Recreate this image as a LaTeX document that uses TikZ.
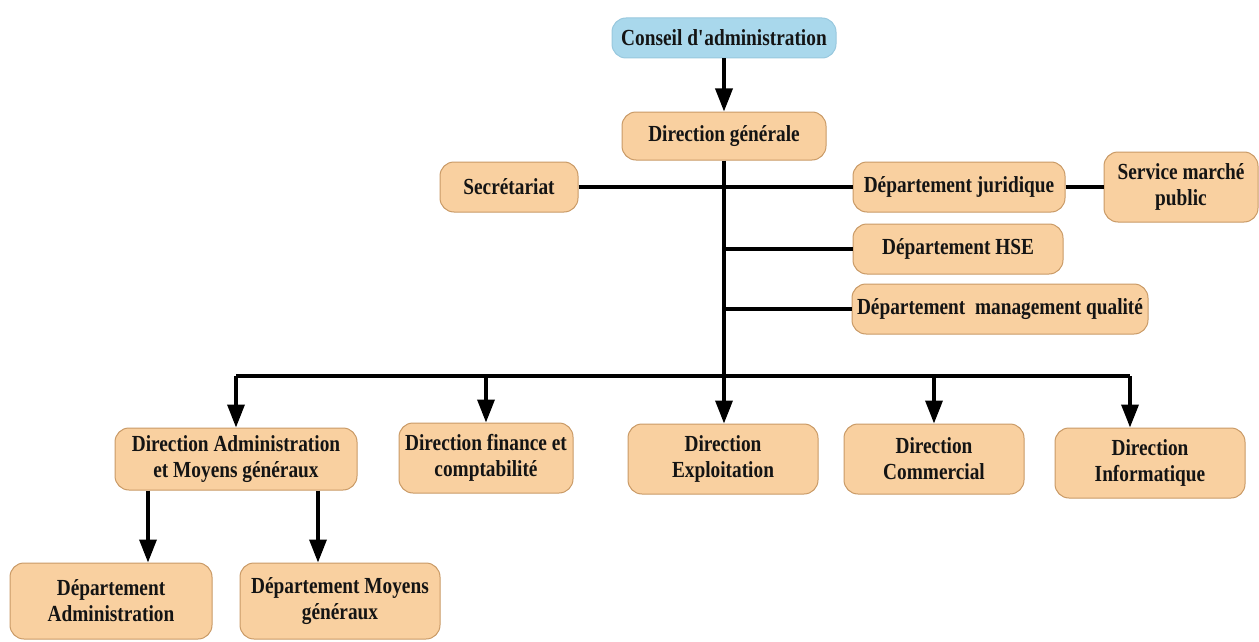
\documentclass[tikz,border=0pt]{standalone}
\usepackage{fontspec}
\setmainfont{Liberation Serif}[FakeStretch=0.84]
\usetikzlibrary{arrows.meta}
\definecolor{peach}{HTML}{F9D0A0}
\definecolor{peachline}{HTML}{C99A66}
\definecolor{sky}{HTML}{A9D8EC}
\definecolor{skyline}{HTML}{98C8DE}
\definecolor{ink}{HTML}{141414}
\begin{document}
\begin{tikzpicture}[x=1pt,y=-1pt,
  box/.style={draw=peachline, fill=peach, line width=1pt, rounded corners=14pt,
    align=center, inner sep=0pt, text=ink,
    font=\bfseries\fontsize{23}{26}\selectfont},
  topbox/.style={box, draw=skyline, fill=sky},
  sz/.style 2 args={minimum width=#1pt, minimum height=#2pt},
  link/.style={draw=black, line width=3.6pt},
  thinlink/.style={draw=black, line width=3.1pt},
  arr/.style={link, -{Triangle[length=23pt,width=17pt]}}]
\useasboundingbox (0,0) rectangle (1259,642);

% boxes
\node[topbox, sz={224}{40}] (ca)  at (724,38)  {Conseil d\textquotesingle administration};
\node[box, sz={204}{48}]    (dg)  at (724,136) {Direction générale};
\node[box, sz={138}{50}]    (sec) at (509,187) {Secrétariat};
\node[box, sz={212}{50}]    (jur) at (959,187) {Département juridique};
\node[box, sz={154}{70}]    (smp) at (1181,187) {Service marché\\public};
\node[box, sz={210}{50}]    (hse) at (958,249) {Département HSE};
\node[box, sz={296}{50}]    (dmq) at (1000,309) {Département~ management qualité};
\node[box, sz={242}{62}]    (dam) at (236,459) {Direction Administration\\et Moyens généraux};
\node[box, sz={174}{70}]    (dfc) at (486,458) {Direction finance et\\comptabilité};
\node[box, sz={190}{70}]    (dex) at (723,459) {Direction\\Exploitation};
\node[box, sz={180}{70}]    (dco) at (934,459) {Direction\\Commercial};
\node[box, sz={190}{70}]    (din) at (1150,463) {Direction\\Informatique};
\node[box, sz={202}{76}]    (dad) at (111,601) {Département\\Administration};
\node[box, sz={200}{76}]    (dmg) at (340,601) {Département Moyens\\généraux};

% junction points
\coordinate (hub)  at (724,376);
\coordinate (barL) at (236,376);
\coordinate (barR) at (1130,376);
\coordinate (subL) at (148,0);
\coordinate (subR) at (318,0);

% board to general management
\draw[arr] (ca.south) -- (dg.north);

% staff units
\draw[link] (dg.south) -- (hub);
\draw[thinlink] (sec.east) -- (jur.west);
\draw[thinlink] (jur.east) -- (smp.west);
\draw[thinlink] (hse.west -| hub) -- (hse.west);
\draw[thinlink] (dmq.west -| hub) -- (dmq.west);

% line directions
\draw[link] (barL) -- (barR);
\draw[arr] (barL) -- (dam.north);
\draw[arr] (dfc.north |- hub) -- (dfc.north);
\draw[arr] (hub) -- (hub |- dex.north);
\draw[arr] (dco.north |- hub) -- (dco.north);
\draw[arr] (barR) -- (barR |- din.north);

% departments under administration
\draw[arr] (dam.south -| subL) -- (dad.north -| subL);
\draw[arr] (dam.south -| subR) -- (dmg.north -| subR);
\end{tikzpicture}
\end{document}
